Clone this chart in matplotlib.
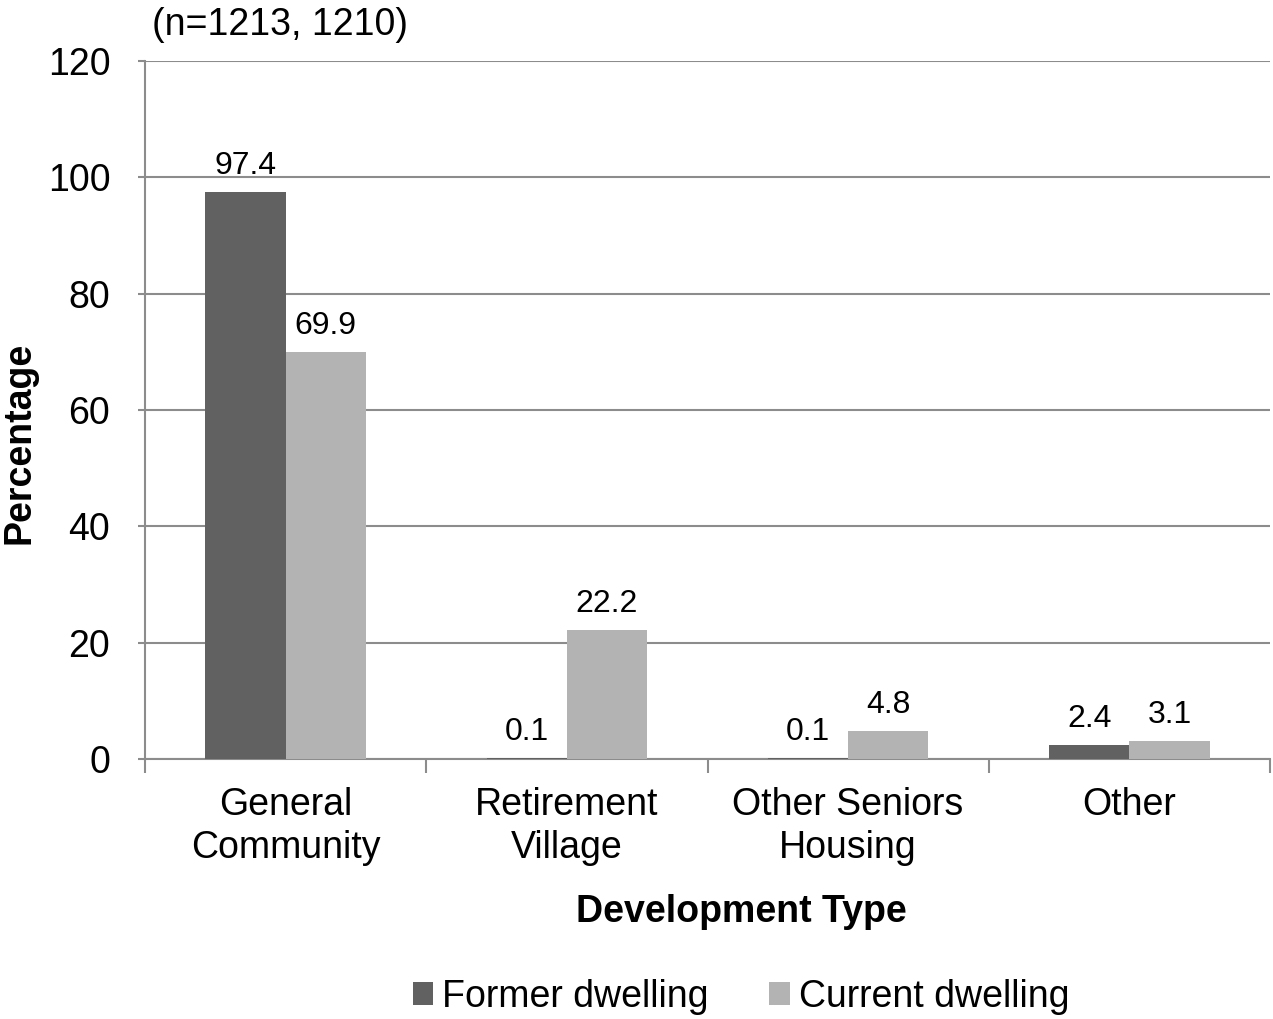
import matplotlib.pyplot as plt
import numpy as np

plt.rcParams["font.family"] = ["Liberation Sans", "DejaVu Sans"]

categories = ["General\nCommunity", "Retirement\nVillage", "Other Seniors\nHousing", "Other"]
former = [97.4, 0.1, 0.1, 2.4]
current = [69.9, 22.2, 4.8, 3.1]
series_names = ["Former dwelling", "Current dwelling"]
yticks = [0, 20, 40, 60, 80, 100, 120]

dark = "#616161"
light = "#b3b3b3"
grid_c = "#8c8c8c"

fig = plt.figure(figsize=(12.73, 10.19), dpi=100)
ax = fig.add_axes([145/1273, 1 - 759/1019, (1270-145)/1273, (759-61)/1019])

x = np.arange(len(categories))
w = 0.285
b1 = ax.bar(x - w/2, former, w, color=dark, label=series_names[0], zorder=3)
b2 = ax.bar(x + w/2, current, w, color=light, label=series_names[1], zorder=3)

for bars, vals in ((b1, former), (b2, current)):
    for r, v in zip(bars, vals):
        ax.annotate(f"{v}", (r.get_x() + r.get_width()/2, v), xytext=(0, 8),
                    textcoords="offset points", ha="center", va="bottom", fontsize=23)

ax.set_xlim(-0.5, 3.5)
ax.set_ylim(0, 120)
ax.set_yticks(yticks)
ax.set_xticks(x)
ax.set_xticklabels(categories, fontsize=27, linespacing=1.25)
ax.tick_params(axis="x", length=0, pad=20)
ax.set_xticks(np.arange(-0.5, 4, 1), minor=True)
ax.tick_params(axis="x", which="minor", length=10, color=grid_c, width=1.5)
ax.tick_params(axis="y", labelsize=27, length=5, color=grid_c, width=1.5, pad=20)

ax.grid(axis="y", color=grid_c, linewidth=1.5, zorder=0)
for s in ["top", "right"]:
    ax.spines[s].set_visible(False)
ax.spines["left"].set_color(grid_c)
ax.spines["bottom"].set_color(grid_c)
ax.spines["left"].set_linewidth(1.5)
ax.spines["bottom"].set_linewidth(1.5)
ax.set_axisbelow(True)

fig.text(741/1273, 1 - 912/1019, "Development Type", fontsize=27, fontweight="bold",
         ha="center", va="center")
fig.text(20/1273, 1 - 443/1019, "Percentage", fontsize=27, fontweight="bold",
         ha="center", va="center", rotation=90)
fig.text(152/1273, 1 - 25/1019, "(n=1213, 1210)", fontsize=27, va="center", ha="left")

fig.legend(loc="center", bbox_to_anchor=(741/1273, 1 - 997/1019), ncol=2, frameon=False,
           fontsize=27, handlelength=0.55, handleheight=0.55, handletextpad=0.25,
           columnspacing=1.6)

fig.savefig("out.png", dpi=100)
